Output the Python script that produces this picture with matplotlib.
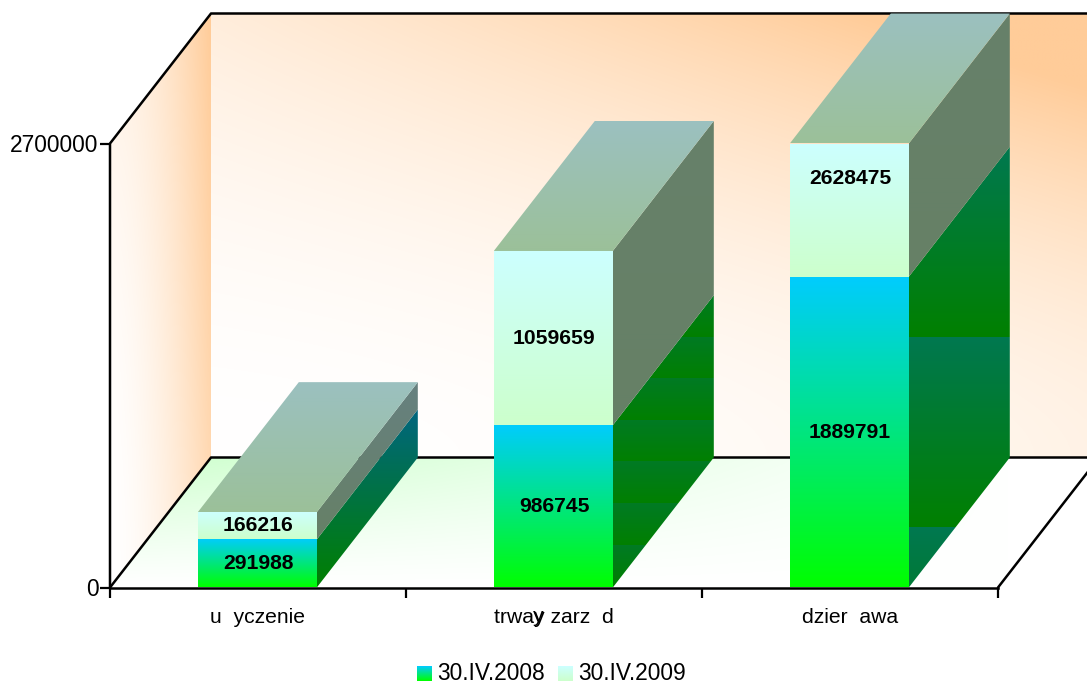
import numpy as np
import matplotlib
matplotlib.use("Agg")
import matplotlib.pyplot as plt
from matplotlib.patches import Polygon

plt.rcParams['font.family'] = ['Liberation Sans', 'DejaVu Sans']

# chart values
categories = ['u  yczenie', 'trway zarz  d', 'dzier  awa']
values_2008 = [291988, 986745, 1889791]
values_2009 = [166216, 1059659, 2628475]
y_max = 2700000
series_names = ['30.IV.2008', '30.IV.2009']

W, H = 1087, 681
DEPTH_X = 101 / 888 * 3            # category units
DEPTH_Y = 130 / 444 * y_max        # value units
BAR_W = 119 / 296
BAR_SHIFT = -0.7 / 296
PEACH = np.array([255, 204, 153]) / 255
WHITE = np.array([1.0, 1.0, 1.0])


def rgb(*c):
    return np.array(c) / 255


def vertical_fill(ax, pts, top, bottom, period=None, anchor=0.0):
    # fill a polygon with a vertical gradient, optionally repeating in bands
    pts = np.array(pts)
    x0, x1 = pts[:, 0].min(), pts[:, 0].max()
    y0, y1 = pts[:, 1].min(), pts[:, 1].max()
    ys = np.linspace(y0, y1, 700)
    t = (ys - y0) / (y1 - y0) if period is None else ((ys - anchor) % period) / period
    img = bottom[None, :] * (1 - t[:, None]) + top[None, :] * t[:, None]
    im = ax.imshow(img[:, None, :], extent=(x0, x1, y0, y1), origin='lower',
                   aspect='auto', interpolation='nearest', zorder=3)
    poly = Polygon(pts, closed=True, transform=ax.transData, fc='none', ec='none')
    im.set_clip_box(fig.bbox)
    im.set_clip_path(poly)


def field_fill(ax, pts, img, zorder=1):
    pts = np.array(pts)
    ext = (pts[:, 0].min(), pts[:, 0].max(), pts[:, 1].min(), pts[:, 1].max())
    im = ax.imshow(img, extent=ext, origin='lower', aspect='auto',
                   interpolation='bilinear', zorder=zorder)
    poly = Polygon(pts, closed=True, transform=ax.transData, fc='none', ec='none')
    im.set_clip_box(fig.bbox)
    im.set_clip_path(poly)


fig = plt.figure(figsize=(W / 100, H / 100), dpi=100)
ax = fig.add_axes([110 / W, (H - 587.5) / H, 888 / W, 444 / H])
for s in ax.spines.values():
    s.set_visible(False)
ax.patch.set_visible(False)

# back wall: peach glow, strongest at the top right
u, v = np.meshgrid(np.linspace(0, 1, 300), np.linspace(0, 1, 200))
t = np.clip((0.35 + 0.7 * u) * v ** 1.8 + 0.25 * u ** 2, 0, 1)[:, :, None]
field_fill(ax, [(DEPTH_X, DEPTH_Y), (3 + DEPTH_X, DEPTH_Y),
                (3 + DEPTH_X, y_max + DEPTH_Y), (DEPTH_X, y_max + DEPTH_Y)],
           WHITE * (1 - t) + PEACH * t)

# left wall: white to peach going back, paler toward the floor
u, v = np.meshgrid(np.linspace(0, 1, 200), np.linspace(0, 1, 200))
t = np.clip(u ** 1.6 * (0.7 + 0.3 * v) + (1 - u) * 0.3 * v ** 2, 0, 1)[:, :, None]
field_fill(ax, [(0, 0), (DEPTH_X, DEPTH_Y), (DEPTH_X, y_max + DEPTH_Y), (0, y_max)],
           WHITE * (1 - t) + PEACH * t)

# floor: pale green fading to white toward the front and the right
u, v = np.meshgrid(np.linspace(0, 1, 300), np.linspace(0, 1, 100))
t = (np.clip(1 - u * 1.1, 0, 1) * v ** 1.2)[:, :, None]
field_fill(ax, [(0, 0), (3, 0), (3 + DEPTH_X, DEPTH_Y), (DEPTH_X, DEPTH_Y)],
           WHITE * (1 - t) + rgb(204, 255, 204) * t)

# frame lines behind the bars
frame = dict(color='black', lw=1.8, clip_on=False, zorder=2, solid_capstyle='round')
ax.plot([0, 0, DEPTH_X, 3 + DEPTH_X], [0, y_max, y_max + DEPTH_Y, y_max + DEPTH_Y], **frame)
ax.plot([0, DEPTH_X, 3 + DEPTH_X], [0, DEPTH_Y, DEPTH_Y], **frame)
ax.plot([3, 3 + DEPTH_X], [0, DEPTH_Y], **frame)

side_period = [1076000, 253000, 1155405]
side_anchor = [0, 1520270, 1520270]
side_top = [rgb(0, 102, 128), rgb(0, 122, 36), rgb(0, 120, 80)]
upper_top = [rgb(102, 128, 128), rgb(102, 128, 106), rgb(102, 128, 106)]
label_upper = [None, None, 2487000]

for i in range(3):
    x0 = i + 0.5 - BAR_W / 2 + BAR_SHIFT
    x1 = i + 0.5 + BAR_W / 2 + BAR_SHIFT
    low = values_2008[i]
    top = min(low + values_2009[i], y_max)

    # right side of both segments
    vertical_fill(ax, [(x1, 0), (x1 + DEPTH_X, DEPTH_Y), (x1 + DEPTH_X, low + DEPTH_Y), (x1, low)],
                  side_top[i], rgb(0, 128, 0), side_period[i], side_anchor[i])
    vertical_fill(ax, [(x1, low), (x1 + DEPTH_X, low + DEPTH_Y), (x1 + DEPTH_X, top + DEPTH_Y), (x1, top)],
                  upper_top[i], rgb(102, 128, 102))
    # top face
    vertical_fill(ax, [(x0, top), (x1, top), (x1 + DEPTH_X, top + DEPTH_Y), (x0 + DEPTH_X, top + DEPTH_Y)],
                  rgb(155, 192, 192), rgb(155, 192, 153))
    # front faces
    vertical_fill(ax, [(x0, 0), (x1, 0), (x1, low), (x0, low)],
                  rgb(0, 204, 255), rgb(0, 255, 0))
    vertical_fill(ax, [(x0, low), (x1, low), (x1, top), (x0, top)],
                  rgb(204, 255, 255), rgb(204, 255, 204))

    lbl = dict(ha='center', va='center', fontsize=15.2, fontweight='bold', color='black', zorder=6)
    ax.text(i + 0.5, low / 2, str(low), **lbl)
    y_up = label_upper[i] if label_upper[i] is not None else (low + top) / 2
    ax.text(i + 0.5, y_up, str(values_2009[i]), **lbl)

ax.plot([0, 3], [0, 0], color='black', lw=1.8, clip_on=False, zorder=5)

ax.set_xlim(0, 3)
ax.set_ylim(0, y_max)
ax.set_xticks([0, 1, 2, 3], labels=[])
ax.set_xticks([0.5, 1.5, 2.5], labels=categories, minor=True)
ax.set_yticks([0, y_max], labels=['0', str(y_max)])
ax.tick_params(axis='x', which='major', length=7, width=1.6, color='black')
ax.tick_params(axis='x', which='minor', length=0, pad=14.5, labelsize=15.2)
ax.tick_params(axis='y', length=7.2, width=1.6, pad=1, labelsize=16.4)

# the second, overprinted y in the middle label
ax.annotate('y', xy=(1.5, 0), xycoords=ax.get_xaxis_transform(), xytext=(-21, -35),
            textcoords='offset pixels', fontsize=15.2, ha='left', va='baseline',
            annotation_clip=False)

# legend
swatches = [(417, rgb(0, 204, 255), rgb(0, 255, 0)), (558, rgb(204, 255, 255), rgb(204, 255, 204))]
for (sx, c_top, c_bot), name in zip(swatches, series_names):
    sw = fig.add_axes([sx / W, 0, 14.5 / W, 15 / H])
    sw.axis('off')
    tt = np.linspace(0, 1, 30)[:, None, None]
    sw.imshow(c_bot * (1 - tt) + c_top * tt, origin='lower', aspect='auto')
    fig.text((sx + 20) / W, 1.5 / H, name, fontsize=16.4, ha='left', va='baseline')

fig.savefig('out.png', dpi=100)
